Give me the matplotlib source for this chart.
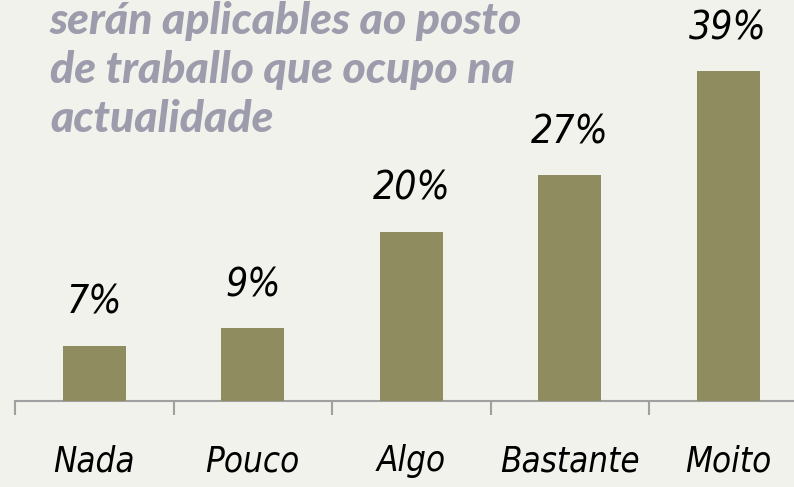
import matplotlib
matplotlib.use('Agg')
import matplotlib.pyplot as plt
import numpy as np

# data
categories = ['Nada', 'Pouco', 'Algo', 'Bastante', 'Moito']
values = [6.5, 8.6, 20.0, 26.7, 39.0]
value_labels = ['7%', '9%', '20%', '27%', '39%']
title_lines = ['serán aplicables ao posto',
               'de traballo que ocupo na',
               'actualidade']

bg = '#f2f2ec'
bar_color = '#8f8c60'
title_color = '#9c9cad'
axis_color = '#a0a0a0'
hand_font = ['DejaVu Sans']

fig = plt.figure(figsize=(7.94, 4.87), dpi=100)
fig.patch.set_facecolor(bg)

# axes runs off the right edge like in the original
ax = fig.add_axes([15 / 794, 86 / 487, 792.5 / 794, 401 / 487])
ax.set_facecolor(bg)

x = np.arange(len(categories))
ax.bar(x, values, width=0.4, color=bar_color, zorder=3)

for xi, v, lab in zip(x, values, value_labels):
    ax.annotate(lab, (xi, v), xytext=(0, 31), textcoords='offset points',
                ha='center', va='center', fontsize=28, style='italic',
                fontstretch='condensed', family=hand_font, color='black')

ax.set_xlim(-0.5, len(categories) - 0.5)
ax.set_ylim(0, 401 / 8.46)

for side in ['top', 'right', 'left']:
    ax.spines[side].set_visible(False)
ax.spines['bottom'].set_color(axis_color)
ax.spines['bottom'].set_linewidth(1.5)
ax.set_yticks([])

ax.set_xticks(np.arange(-0.5, len(categories) + 0.5, 1.0))
ax.set_xticklabels([])
ax.tick_params(axis='x', which='major', length=10, width=1.5, color=axis_color)
ax.set_xticks(x, minor=True)
ax.set_xticklabels(categories, minor=True, fontsize=25, style='italic',
                   fontstretch='condensed', family=hand_font)
ax.tick_params(axis='x', which='minor', length=0, pad=31)

fig.text(50 / 794, 1 - 1 / 487, '\n'.join(title_lines), ha='left', va='top',
         fontsize=32, fontweight='black', style='italic',
         family=['Lato', 'DejaVu Sans'], color=title_color, linespacing=1.28)

fig.savefig('out.png', dpi=100, facecolor=bg)
